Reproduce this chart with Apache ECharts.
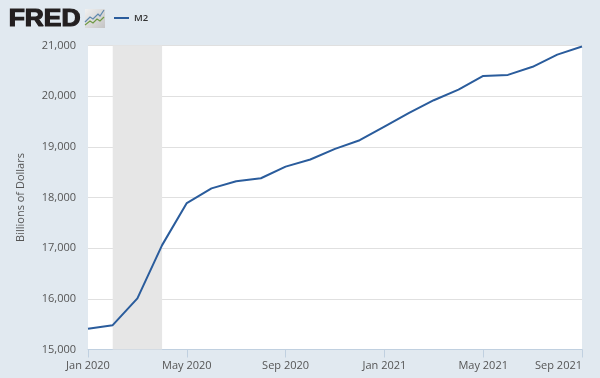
<!DOCTYPE html>
<html>
<head>
<meta charset="utf-8">
<style>
  html, body { margin: 0; padding: 0; background: #e1e9f0; }
  #chart { width: 600px; height: 378px; }
</style>
<script src="https://cdn.jsdelivr.net/npm/echarts@6/dist/echarts.min.js"></script>
</head>
<body>
<div id="chart"></div>
<script>
const months = ['Jan 2020', 'Feb 2020', 'Mar 2020', 'Apr 2020', 'May 2020', 'Jun 2020', 'Jul 2020',
  'Aug 2020', 'Sep 2020', 'Oct 2020', 'Nov 2020', 'Dec 2020', 'Jan 2021', 'Feb 2021', 'Mar 2021',
  'Apr 2021', 'May 2021', 'Jun 2021', 'Jul 2021', 'Aug 2021', 'Sep 2021'];
const m2 = [15410, 15480, 16010, 17060, 17890, 18180, 18320, 18380, 18610, 18750, 18960,
  19130, 19400, 19670, 19920, 20130, 20400, 20420, 20580, 20820, 20980];
const recession = ['Feb 2020', 'Apr 2020'];

const font = '"Open Sans", sans-serif';
const chart = echarts.init(document.getElementById('chart'), null, { renderer: 'canvas' });

chart.setOption({
  animation: false,
  backgroundColor: '#e1e9f0',
  textStyle: { fontFamily: font },
  grid: { left: 88, right: 18, top: 45.5, bottom: 28.5 },
  legend: {
    left: 109, top: 8, itemWidth: 15, itemHeight: 2, icon: 'rect',
    textStyle: { fontFamily: font, fontSize: 9.5, color: '#333', fontWeight: 600 },
    itemGap: 4
  },
  xAxis: {
    type: 'category',
    data: months,
    boundaryGap: false,
    axisLine: { lineStyle: { color: '#c0d0e0' } },
    axisTick: { show: true, interval: 3, length: 8, lineStyle: { color: '#c0d0e0' } },
    axisLabel: {
      interval: 3, fontFamily: font, fontSize: 11, color: '#555', margin: 11,
      alignMaxLabel: 'right'
    },
    splitLine: { show: false }
  },
  yAxis: {
    type: 'value',
    min: 15000,
    max: 21000,
    interval: 1000,
    name: 'Billions of Dollars',
    nameLocation: 'middle',
    nameGap: 62,
    nameTextStyle: { fontFamily: font, fontSize: 11, color: '#555' },
    axisLine: { show: false },
    axisTick: { show: false },
    axisLabel: {
      fontFamily: font, fontSize: 11, color: '#555', margin: 12,
      formatter: v => v.toLocaleString('en-US')
    },
    splitLine: { lineStyle: { color: '#e0e0e0', width: 1 } }
  },
  series: [{
    name: 'M2',
    type: 'line',
    data: m2,
    showSymbol: false,
    symbol: 'none',
    clip: false,
    lineStyle: { color: '#2a5c9c', width: 2 },
    itemStyle: { color: '#2a5c9c' },
    z: 5,
    markArea: {
      silent: true,
      itemStyle: { color: '#e6e6e6' },
      data: [[{ xAxis: recession[0] }, { xAxis: recession[1] }]]
    }
  }],
  graphic: [
    // plot background behind the grid
    { type: 'rect', z: -1, shape: { x: 88, y: 45, width: 494, height: 304.5 }, style: { fill: '#fff' } },
    // FRED logo
    { type: 'text', left: 8, top: 7, z: 10,
      style: { text: 'FRED', font: '900 24px "Liberation Sans", sans-serif', fill: '#231f20',
        stroke: '#231f20', lineWidth: 1.2 }, scaleX: 1.1 },
    { type: 'rect', z: 10, shape: { x: 85, y: 9, width: 20, height: 19 },
      style: { fill: new echarts.graphic.LinearGradient(0, 0, 1, 1, [
        { offset: 0, color: '#f0f0f0' }, { offset: 1, color: '#c4c4c4' }]) } },
    { type: 'polyline', z: 11, shape: { points: [[85, 22], [90, 17], [93, 19], [98, 14], [100, 16], [104, 10]] },
      style: { stroke: '#5f88ad', fill: null, lineWidth: 1.2 } },
    { type: 'polyline', z: 11, shape: { points: [[85, 25], [90, 21], [93, 23], [97, 19], [100, 21], [104, 17]] },
      style: { stroke: '#6f9a45', fill: null, lineWidth: 1.2 } }
  ]
});
</script>
</body>
</html>
